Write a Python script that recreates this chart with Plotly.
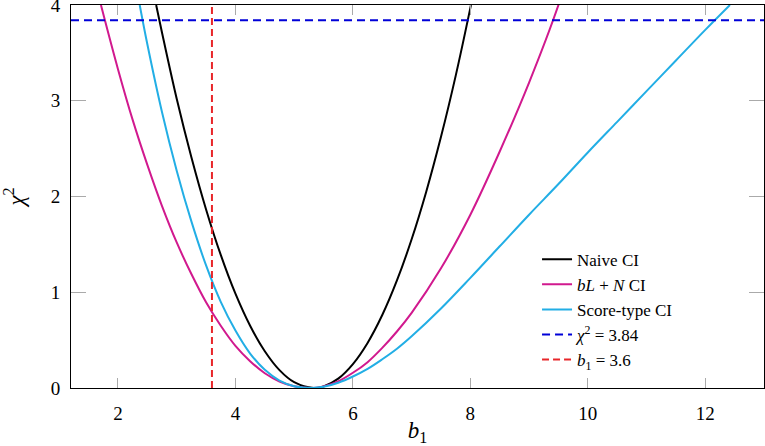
import plotly.graph_objects as go

# Naive CI
naive_x = [2.65, 2.75, 3.0, 3.25, 3.5, 3.75, 4.0, 4.25, 4.5, 4.75, 5.0, 5.33, 5.5, 5.75, 6.0, 6.25, 6.5, 6.75, 7.0, 7.25, 7.5, 7.75, 8.0, 8.01]
naive_y = [4.0, 3.71, 3.02, 2.41, 1.865, 1.39, 0.985, 0.65, 0.384, 0.187, 0.061, 0.0, 0.016, 0.098, 0.25, 0.471, 0.762, 1.123, 1.553, 2.053, 2.623, 3.26, 3.97, 4.0]

# bL + N CI
bln_x = [1.71, 2.0, 2.25, 2.5, 2.75, 3.0, 3.25, 3.5, 3.75, 4.0, 4.25, 4.5, 4.75, 5.0, 5.3, 5.5, 5.75, 6.0, 6.25, 6.5, 6.75, 7.0, 7.5, 8.0, 8.5, 9.0, 9.5, 9.51]
bln_y = [4.0, 3.33, 2.80, 2.33, 1.90, 1.52, 1.19, 0.895, 0.65, 0.44, 0.28, 0.154, 0.068, 0.018, 0.0, 0.017, 0.07, 0.159, 0.27, 0.419, 0.59, 0.785, 1.25, 1.81, 2.47, 3.19, 4.0, 4.02]

# Score-type CI
score_x = [2.37, 2.5, 2.75, 3.0, 3.25, 3.5, 3.75, 4.0, 4.25, 4.5, 4.75, 5.0, 5.3, 5.5, 5.75, 6.0, 6.25, 6.5, 6.75, 7.0, 7.5, 8.0, 8.5, 9.0, 9.5, 10.0, 10.5, 11.0, 11.5, 12.0, 12.42]
score_y = [4.0, 3.59, 2.88, 2.27, 1.74, 1.28, 0.90, 0.60, 0.36, 0.19, 0.078, 0.019, 0.0, 0.012, 0.055, 0.12, 0.20, 0.30, 0.41, 0.54, 0.83, 1.15, 1.48, 1.81, 2.13, 2.46, 2.78, 3.10, 3.42, 3.74, 4.0]

chi2_crit = 3.84
b1_value = 3.6
x_range = [1.2, 13.0]
y_range = [0, 4]
x_ticks = [2, 4, 6, 8, 10, 12]
y_ticks = [0, 1, 2, 3, 4]

FONT = "Liberation Serif"

fig = go.Figure()
fig.add_trace(go.Scatter(x=naive_x, y=naive_y, mode="lines", name="Naive CI",
                         line=dict(color="black", width=2, shape="spline")))
fig.add_trace(go.Scatter(x=bln_x, y=bln_y, mode="lines", name="<i>bL</i> + <i>N</i> CI",
                         line=dict(color="#d1198e", width=2, shape="spline")))
fig.add_trace(go.Scatter(x=score_x, y=score_y, mode="lines", name="Score-type CI",
                         line=dict(color="#22aee5", width=2, shape="spline")))
fig.add_trace(go.Scatter(x=x_range, y=[chi2_crit, chi2_crit], mode="lines",
                         name="<i>χ</i><sup>2</sup> = 3.84",
                         line=dict(color="#0000d8", width=2, dash="8px,5px")))
fig.add_trace(go.Scatter(x=[b1_value, b1_value], y=y_range, mode="lines",
                         name="<i>b</i><sub>1</sub> = 3.6",
                         line=dict(color="#e8262a", width=2, dash="7px,4px")))

fig.update_layout(
    width=765, height=446,
    margin=dict(l=71, r=1, t=5, b=58, autoexpand=False),
    paper_bgcolor="white", plot_bgcolor="white",
    font=dict(family=FONT, size=19, color="black"),
    showlegend=True,
    legend=dict(x=0.6725, y=0.027, xanchor="left", yanchor="bottom",
                bgcolor="rgba(255,255,255,0)", borderwidth=0,
                font=dict(family=FONT, size=17), tracegroupgap=0),
    xaxis=dict(range=x_range, tickvals=x_ticks, showgrid=False, zeroline=False,
               showline=True, linecolor="black", linewidth=1, mirror="allticks",
               ticks="inside", ticklen=10, tickcolor="#aaaaaa", tickwidth=1,
               ticklabelstandoff=8, automargin=False, ticklabeloverflow="allow",
               title=dict(text="<i>b</i><sub>1</sub>", font=dict(size=23), standoff=10)),
    yaxis=dict(range=y_range, tickvals=y_ticks, showgrid=False, zeroline=False,
               showline=True, linecolor="black", linewidth=1, mirror="allticks",
               ticks="inside", ticklen=15, tickcolor="#aaaaaa", tickwidth=1,
               ticklabelstandoff=6, automargin=False, ticklabeloverflow="allow",
               title=dict(text="<i>χ</i><sup>2</sup>", font=dict(size=23), standoff=28)),
)

fig.write_html("out.html", config={"displayModeBar": False},
               post_script="document.body.style.margin='0';document.body.style.overflow='hidden';")
